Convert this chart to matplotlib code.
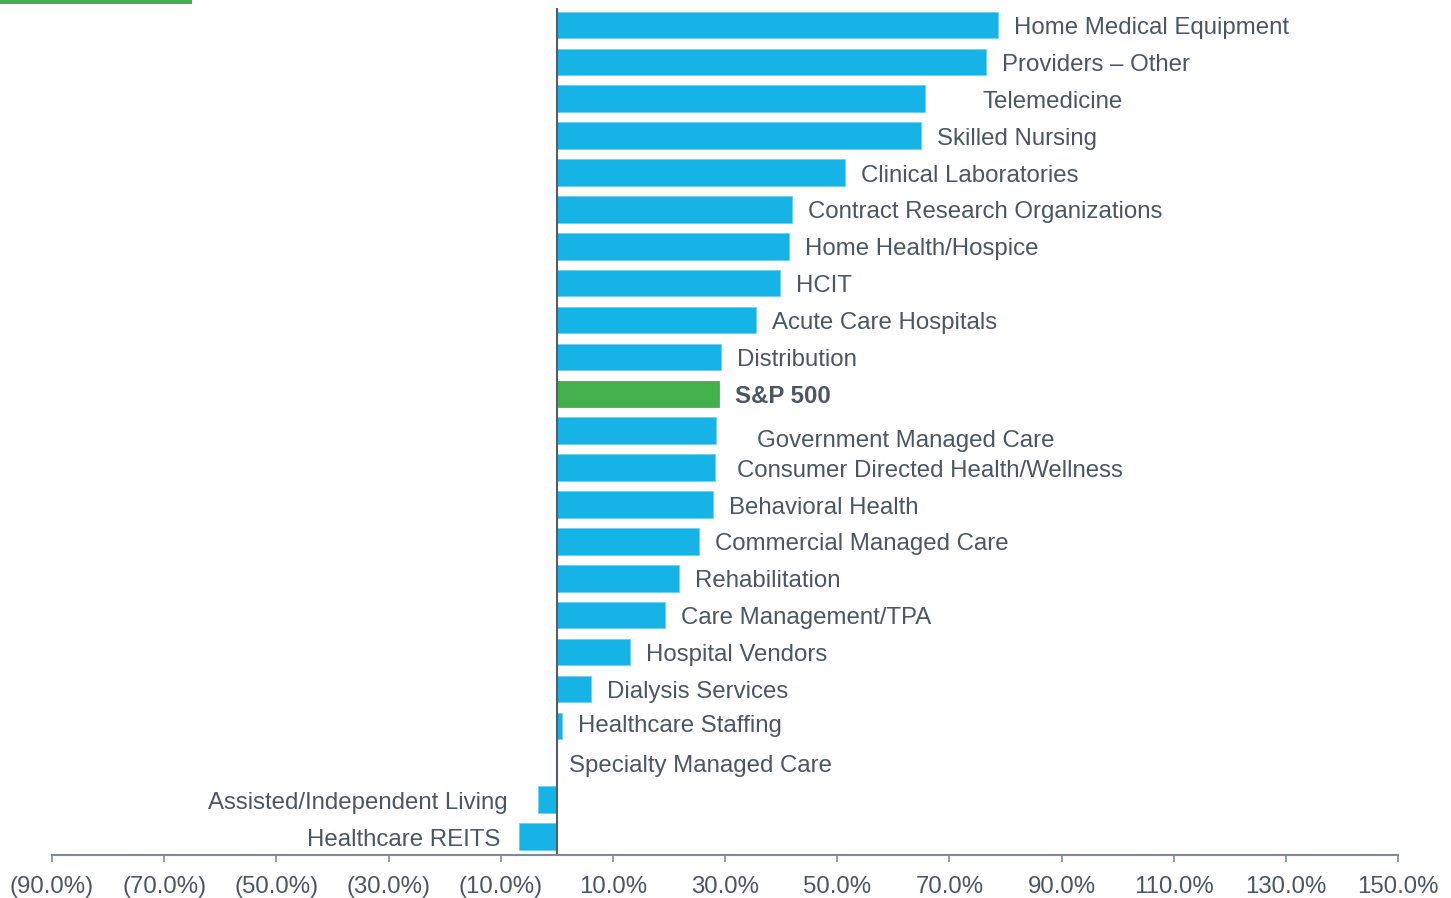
import matplotlib.pyplot as plt
from matplotlib.patches import Rectangle

# Sector returns (%), top to bottom
sectors = [
    "Home Medical Equipment", "Providers \u2013 Other", "Telemedicine", "Skilled Nursing",
    "Clinical Laboratories", "Contract Research Organizations", "Home Health/Hospice",
    "HCIT", "Acute Care Hospitals", "Distribution", "S&P 500",
    "Government Managed Care", "Consumer Directed Health/Wellness", "Behavioral Health",
    "Commercial Managed Care", "Rehabilitation", "Care Management/TPA",
    "Hospital Vendors", "Dialysis Services", "Healthcare Staffing",
    "Specialty Managed Care", "Assisted/Independent Living", "Healthcare REITS",
]
returns = [
    78.6, 76.5, 65.6, 64.9, 51.4, 41.9, 41.4, 39.8, 35.5, 29.2, 29.0,
    28.4, 28.2, 27.8, 25.3, 21.8, 19.3, 13.0, 6.1, 0.9, 0.0, -3.4, -6.8,
]
ticks = [-90, -70, -50, -30, -10, 10, 30, 50, 70, 90, 110, 130, 150]

blue = "#15B3E6"
green = "#43B14B"
text_color = "#4B5662"

# manual label nudges (pixels, +y = down) as in the original slide
nudges = {
    "Telemedicine": (42, 0),
    "Government Managed Care": (25, 7),
    "Consumer Directed Health/Wellness": (6, 0),
    "Specialty Managed Care": (-4, 0),
    "Healthcare Staffing": (0, -3),
    "Assisted/Independent Living": (-12, 0),
}

fig = plt.figure(figsize=(14.51, 8.98), dpi=100)
ax = fig.add_axes([52 / 1451, 43 / 898, 1346 / 1451, 847 / 898])

ypos = list(range(len(sectors)))
colors = [green if s == "S&P 500" else blue for s in sectors]
ax.barh(ypos, returns, height=0.72, color=colors, edgecolor="#6FD0F0", linewidth=0.6)
ax.patches[sectors.index("S&P 500")].set_edgecolor(green)

for y, s, v in zip(ypos, sectors, returns):
    dx, dy = nudges.get(s, (0, 0))
    dy += 3
    bold = s == "S&P 500"
    if v < 0:
        off = (-18 + dx) * 0.72
        ha = "right"
    else:
        off = (16 + dx) * 0.72
        ha = "left"
    ax.annotate(s, (v, y), xytext=(off, -dy * 0.72), textcoords="offset points",
                ha=ha, va="center", fontsize=17.3, color=text_color,
                fontweight="bold" if bold else "normal", family="Liberation Sans")

ax.set_xlim(-90, 150)
ax.set_ylim(len(sectors) - 0.5, -0.46)
ax.axvline(0, color="#555E66", lw=1.5)

ax.set_xticks(ticks)
ax.set_xticklabels([f"({abs(t):.1f}%)" if t < 0 else f"{t:.1f}%" for t in ticks],
                   fontsize=17.3, color=text_color, family="Liberation Sans")
ax.tick_params(axis="x", direction="out", length=5, width=1.2, color="#7F8B94", pad=10)
ax.set_yticks([])
for side in ["top", "right", "left"]:
    ax.spines[side].set_visible(False)
ax.spines["bottom"].set_color("#7F8B94")
ax.spines["bottom"].set_linewidth(1.5)

# green accent line at top left
fig.add_artist(Rectangle((0, 1 - 4 / 898), 192 / 1451, 4 / 898,
                         transform=fig.transFigure, color=green, lw=0))

fig.savefig("out.png", dpi=100)
